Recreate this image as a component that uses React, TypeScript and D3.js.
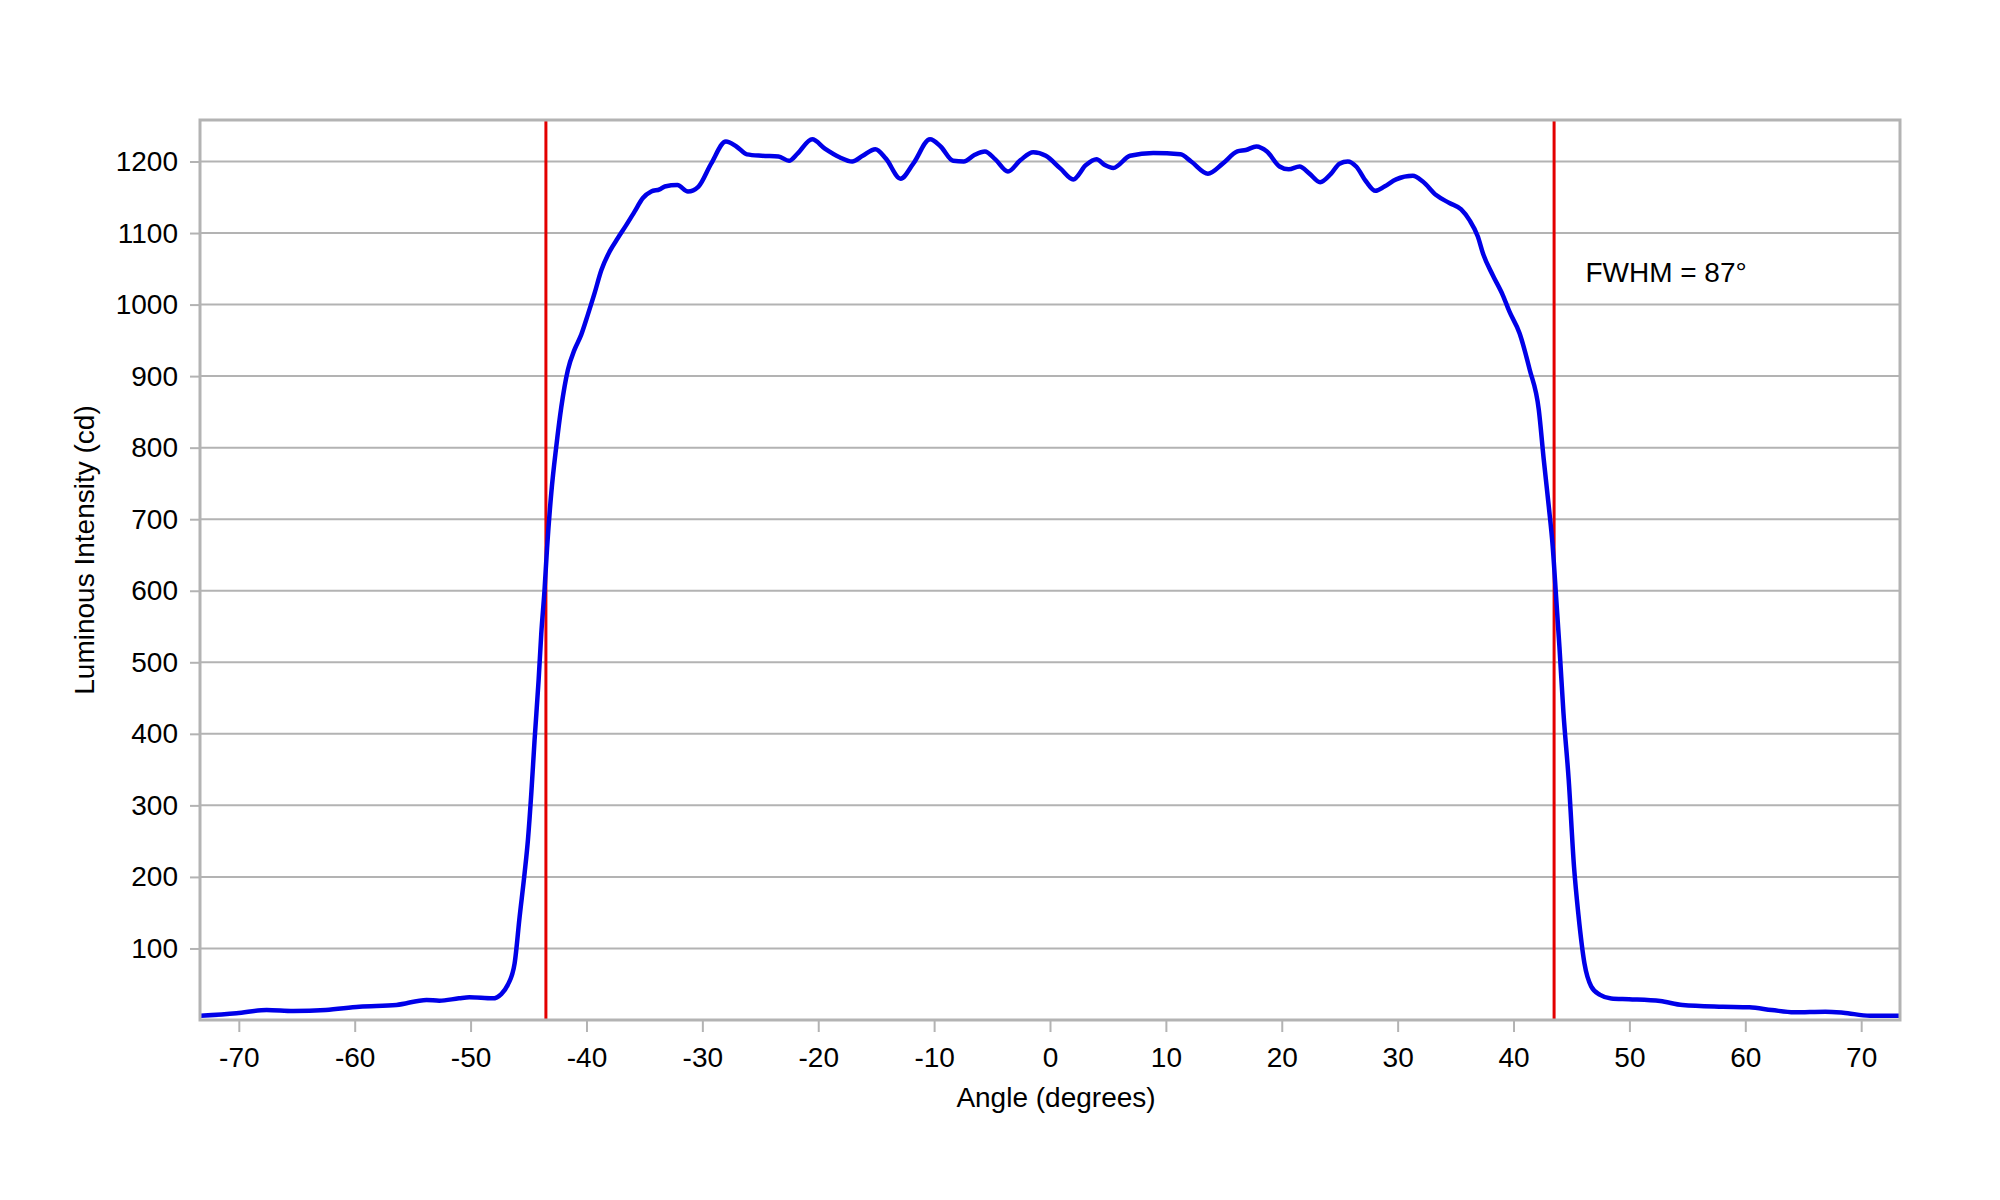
import { useRef, useEffect } from "react";
import * as d3 from "d3";

// Angle (degrees) and luminous intensity (cd)
const angles = [
  -73.3, -70.2, -67.6, -65.3, -62.5, -59.6, -56.4, -53.8, -52.7, -51.0,
  -50.1, -48.1, -47.35, -46.8, -46.2, -45.77, -45.34, -45.05, -44.76, -44.48,
  -44.13, -43.9, -43.62, -43.4, -43.04, -42.61, -42.17, -41.6, -41.03, -40.45,
  -39.88, -39.3, -38.72, -38.01, -37.29, -36.57, -35.85, -35.13, -34.41, -33.69,
  -33.24, -32.15, -31.24, -30.33, -29.24, -27.97, -27.06, -26.15, -24.88, -23.43,
  -22.52, -21.79, -20.52, -19.43, -18.16, -17.07, -16.16, -15.07, -14.16, -12.89,
  -11.8, -10.35, -9.44, -8.35, -7.44, -6.53, -5.62, -4.72, -3.63, -2.54,
  -1.45, -0.36, 0.91, 2.01, 3.1, 4.01, 4.73, 5.46, 6.91, 8.91,
  11.27, 12.18, 13.63, 14.9, 16.17, 16.9, 17.81, 18.72, 19.81, 20.6,
  21.53, 22.39, 23.31, 24.26, 24.98, 25.7, 26.42, 27.28, 28.08, 28.86,
  29.87, 31.31, 32.17, 33.32, 34.47, 35.48, 36.2, 36.92, 37.35, 38.21,
  39.08, 39.65, 40.52, 41.38, 42.18, 42.61, 43.04, 43.38, 43.67,
  43.96, 44.31, 44.76, 45.22, 45.6, 46.12, 46.7, 47.47, 48.43, 49.97,
  52.66, 54.58, 58.05, 60.36, 62.28, 64.21, 66.91, 68.45, 70.76, 73.3,
];

const intensity = [
  6, 9.3, 14, 12.6, 14, 18.6, 21, 28, 27, 30.3,
  31.7, 30.3, 36.3, 48.9, 79.2, 144, 205, 252, 317, 391,
  475, 540, 601, 660, 736, 801, 857, 909, 937, 958,
  986, 1016, 1048, 1074, 1093, 1111, 1130, 1149, 1158, 1161,
  1165, 1167, 1158, 1165, 1197, 1228, 1221, 1210, 1208, 1207,
  1201, 1211, 1231, 1218, 1206, 1200, 1208, 1217, 1204, 1176,
  1197, 1231, 1221, 1201, 1200, 1209, 1214, 1203, 1186, 1202,
  1213, 1208, 1190, 1175, 1195, 1203, 1195, 1191, 1208, 1212,
  1210, 1200, 1183, 1197, 1214, 1216, 1221, 1214, 1193, 1189,
  1193, 1183, 1171, 1183, 1197, 1200, 1193, 1172, 1159, 1165,
  1175, 1180, 1172, 1153, 1142, 1133, 1118, 1095, 1072, 1041,
  1013, 990, 960, 910, 853, 783, 718, 662, 592,
  522, 429, 336, 214, 147, 79, 47, 35, 30, 29,
  26.5, 21, 18.6, 17.7, 14, 10.7, 11.6, 10.2, 6, 6,
];

const xTickValues = [-70, -60, -50, -40, -30, -20, -10, 0, 10, 20, 30, 40, 50, 60, 70];
const yTickValues = [100, 200, 300, 400, 500, 600, 700, 800, 900, 1000, 1100, 1200];
const halfMaxAngles = [-43.5, 43.5];
const fwhmLabel = "FWHM = 87°";
const xTitle = "Angle (degrees)";
const yTitle = "Luminous Intensity (cd)";

export default function App() {
  const svgRef = useRef<SVGSVGElement>(null);
  const width = 2000;
  const height = 1200;

  useEffect(() => {
    document.body.style.margin = "0";
    if (!svgRef.current) return;
    const svg = d3.select(svgRef.current);
    svg.selectAll("*").remove();

    const margin = { top: 120, right: 100, bottom: 180, left: 200 };
    const innerWidth = width - margin.left - margin.right;
    const innerHeight = height - margin.top - margin.bottom;
    const font = "'Liberation Sans', Arial, sans-serif";
    const fontSize = "28px";
    const grey = "#b3b3b3";

    const g = svg
      .append("g")
      .attr("transform", `translate(${margin.left},${margin.top})`);

    // Scales
    const x = d3.scaleLinear().domain([-73.35, 73.35]).range([0, innerWidth]);
    const y = d3.scaleLinear().domain([0, 1258]).range([innerHeight, 0]);

    // Grid
    g.append("g")
      .selectAll("line")
      .data(yTickValues)
      .join("line")
      .attr("x1", 0)
      .attr("x2", innerWidth)
      .attr("y1", (d) => y(d))
      .attr("y2", (d) => y(d))
      .attr("stroke", grey)
      .attr("stroke-width", 2);

    // Axes (plain "-" and no thousands separator, like the source chart)
    const plain = (d: d3.NumberValue) => String(d);
    const yAxis = g
      .append("g")
      .call(
        d3
          .axisLeft(y)
          .tickValues(yTickValues)
          .tickFormat(plain)
          .tickSize(10)
          .tickPadding(12)
      );
    const xAxis = g
      .append("g")
      .attr("transform", `translate(0,${innerHeight})`)
      .call(
        d3
          .axisBottom(x)
          .tickValues(xTickValues)
          .tickFormat(plain)
          .tickSize(12)
          .tickPadding(15)
      );
    [xAxis, yAxis].forEach((a) => {
      a.select(".domain").remove();
      a.selectAll(".tick line").attr("stroke", grey).attr("stroke-width", 2);
      a.selectAll(".tick text")
        .attr("fill", "#000")
        .style("font-family", font)
        .style("font-size", fontSize);
    });

    // FWHM markers
    g.append("g")
      .selectAll("line")
      .data(halfMaxAngles)
      .join("line")
      .attr("x1", (d) => x(d))
      .attr("x2", (d) => x(d))
      .attr("y1", 0)
      .attr("y2", innerHeight)
      .attr("stroke", "#e30000")
      .attr("stroke-width", 3);

    // Intensity curve
    const points = angles.map((a, i) => [a, intensity[i]] as [number, number]);
    const line = d3
      .line<[number, number]>()
      .x((d) => x(d[0]))
      .y((d) => y(d[1]))
      .curve(d3.curveMonotoneX);
    g.append("path")
      .datum(points)
      .attr("d", line)
      .attr("fill", "none")
      .attr("stroke", "#0000e8")
      .attr("stroke-width", 4.5)
      .attr("stroke-linejoin", "round");

    // Frame
    g.append("rect")
      .attr("width", innerWidth)
      .attr("height", innerHeight)
      .attr("fill", "none")
      .attr("stroke", grey)
      .attr("stroke-width", 3);

    // Texts
    g.append("text")
      .attr("x", x(46.2))
      .attr("y", 162)
      .style("font-family", font)
      .style("font-size", fontSize)
      .text(fwhmLabel);

    svg
      .append("text")
      .attr("x", 1056)
      .attr("y", 1107)
      .attr("text-anchor", "middle")
      .style("font-family", font)
      .style("font-size", fontSize)
      .text(xTitle);

    svg
      .append("text")
      .attr("transform", "translate(94,550) rotate(-90)")
      .attr("text-anchor", "middle")
      .style("font-family", font)
      .style("font-size", fontSize)
      .text(yTitle);
  }, []);

  return (
    <svg
      ref={svgRef}
      width={width}
      height={height}
      style={{ display: "block", background: "#fff" }}
    />
  );
}
